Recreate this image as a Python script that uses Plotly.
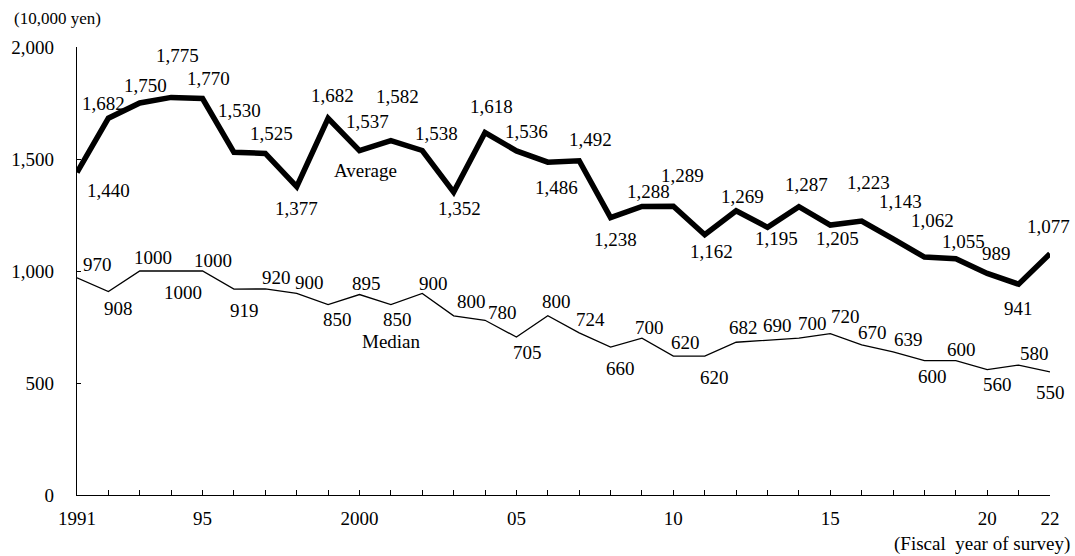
import plotly.graph_objects as go

years = list(range(1991, 2023))
average = [1440, 1682, 1750, 1775, 1770, 1530, 1525, 1377, 1682, 1537, 1582, 1538, 1352, 1618,
           1536, 1486, 1492, 1238, 1288, 1289, 1162, 1269, 1195, 1287, 1205, 1223, 1143, 1062,
           1055, 989, 941, 1077]
median = [970, 908, 1000, 1000, 1000, 919, 920, 900, 850, 895, 850, 900, 800, 780, 705, 800,
          724, 660, 700, 620, 620, 682, 690, 700, 720, 670, 639, 600, 600, 560, 580, 550]
avg_labels = [f"{v:,}" for v in average]
med_labels = [str(v) for v in median]
x_tick_text = {1991: "1991", 1995: "95", 2000: "2000", 2005: "05", 2010: "10", 2015: "15",
               2020: "20", 2022: "22"}
y_ticks = [0, 500, 1000, 1500, 2000]

# label offsets in pixels (dx right, dy down) relative to each point
avg_off = [(31, 18), (-5, -15), (6, -18), (6, -42), (6, -20), (6, -42), (6, -20), (0, 22),
           (4, -23), (8, -29), (7, -44), (14, -17), (6, 16), (6, -26), (10, -19), (9, 25),
           (11, -21), (5, 22), (7, -15), (9, -31), (7, 17), (6, -14), (9, 11), (8, -22),
           (7, 13), (7, -39), (7, -37), (8, -37), (8, -17), (9, -20), (0, 24), (-2, -27)]
med_off = [(20, -13), (10, 17), (13, -14), (12, 21), (10, -11), (11, 21), (11, -11), (13, -11),
           (9, 15), (7, -11), (7, 15), (11, -10), (18, -14), (17, -8), (11, 15), (9, -14),
           (11, -13), (10, 21), (8, -11), (12, -14), (10, 21), (7, -15), (10, -15), (14, -15),
           (15, -17), (11, -12), (15, -12), (8, 16), (6, -11), (10, 15), (16, -12), (0, 21)]

FONT = "Liberation Serif, Times New Roman, serif"
FS = 19

fig = go.Figure()
fig.add_trace(go.Scatter(x=years, y=median, mode="lines",
                         line=dict(color="black", width=1.3), cliponaxis=False))
fig.add_trace(go.Scatter(x=years, y=average, mode="lines",
                         line=dict(color="black", width=5.5), cliponaxis=False))

ann = []
for x, v, t, (dx, dy) in zip(years, average, avg_labels, avg_off):
    ann.append(dict(x=x, y=v, xref="x", yref="y", text=t, showarrow=False,
                    xshift=dx, yshift=-dy, font=dict(family=FONT, size=FS, color="black")))
for x, v, t, (dx, dy) in zip(years, median, med_labels, med_off):
    ann.append(dict(x=x, y=v, xref="x", yref="y", text=t, showarrow=False,
                    xshift=dx, yshift=-dy, font=dict(family=FONT, size=FS, color="black")))

ann.append(dict(x=2000, y=1500, xref="x", yref="y", text="Average", showarrow=False,
                xshift=366 - 359.5, yshift=-(170 - 159), font=dict(family=FONT, size=FS, color="black")))
ann.append(dict(x=2000, y=1000, xref="x", yref="y", text="Median", showarrow=False,
                xshift=392 - 359.5, yshift=-(341 - 271), font=dict(family=FONT, size=FS, color="black")))
ann.append(dict(x=0, y=1, xref="paper", yref="paper", text="(10,000 yen)", showarrow=False,
                xanchor="left", yanchor="middle", xshift=-65, yshift=29,
                font=dict(family=FONT, size=17, color="black")))
ann.append(dict(x=1, y=0, xref="paper", yref="paper", text="(Fiscal\u00a0 year of survey)",
                showarrow=False, xanchor="right", yanchor="middle", xshift=22, yshift=-49,
                font=dict(family=FONT, size=FS, color="black")))

fig.update_layout(
    width=1075, height=556,
    margin=dict(l=77, r=25, t=47, b=61),
    paper_bgcolor="white", plot_bgcolor="white",
    showlegend=False,
    annotations=ann,
    font=dict(family=FONT, size=FS, color="black"),
    xaxis=dict(range=[1991, 2022], tickmode="array", tickvals=years,
               ticktext=[x_tick_text.get(y, "") for y in years],
               ticks="inside", ticklen=5, tickcolor="black", tickwidth=1,
               showline=True, linecolor="black", linewidth=1.3, showgrid=False,
               zeroline=False, ticklabelstandoff=6,
               tickfont=dict(family=FONT, size=FS, color="black")),
    yaxis=dict(range=[0, 2000], tickmode="array", tickvals=y_ticks,
               ticktext=[f"{v:,}" for v in y_ticks],
               ticks="inside", ticklen=4, tickcolor="black", tickwidth=1,
               showline=True, linecolor="black", linewidth=1.3, showgrid=False,
               zeroline=False, ticklabelstandoff=18,
               tickfont=dict(family=FONT, size=FS, color="black")),
)

fig.write_html("out.html")
